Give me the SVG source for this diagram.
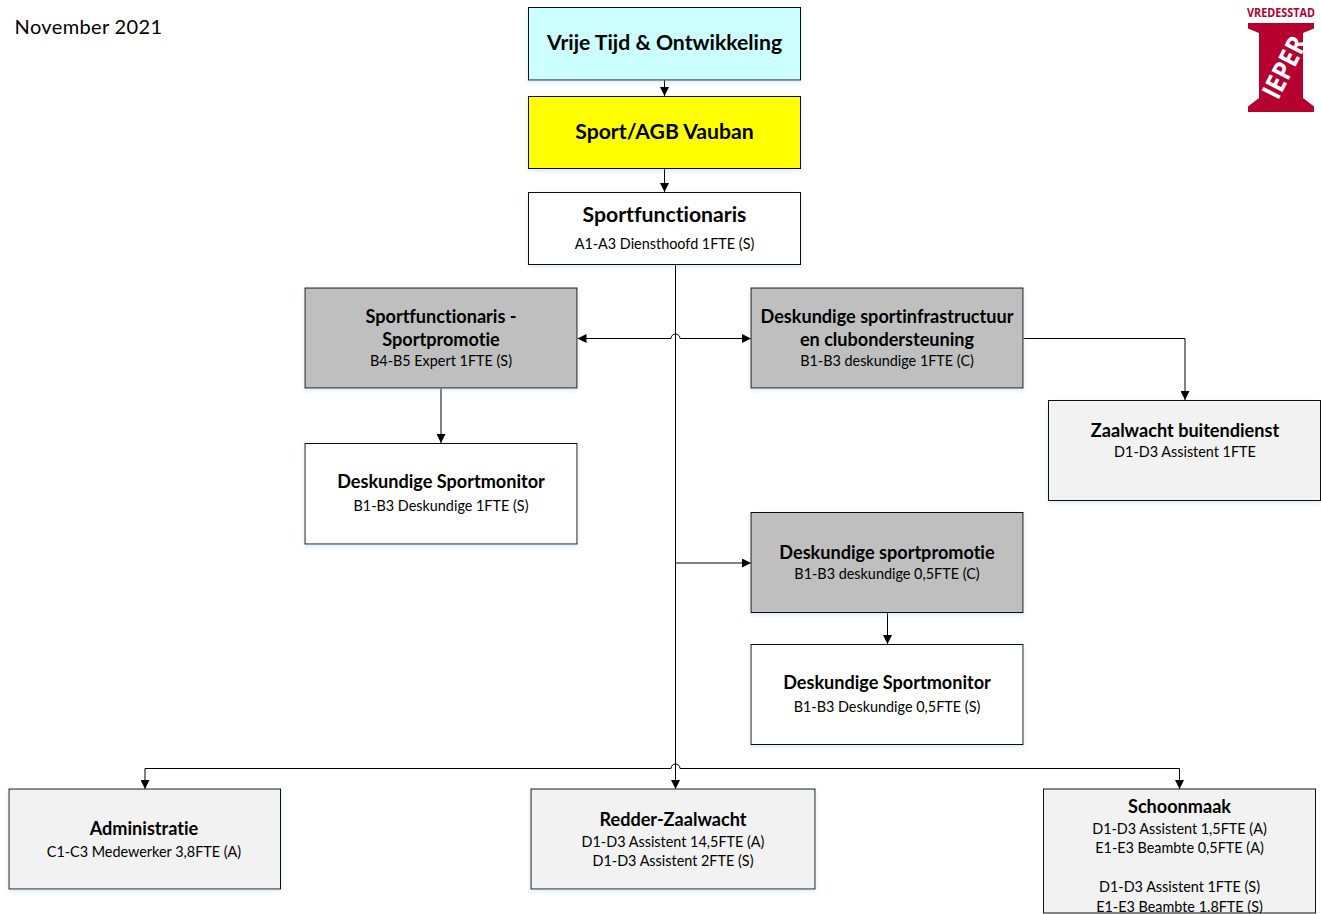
<svg xmlns="http://www.w3.org/2000/svg" width="1321" height="914" viewBox="0 0 1321 914">
<style>
text{font-family:"Lato","Carlito","Open Sans",sans-serif;text-anchor:middle;fill:#000;font-variant-ligatures:none}
.t{font-size:18.1px;font-weight:700}
.h{font-size:21.2px;font-weight:700}
.s{font-size:14.4px}
.b{stroke:#111;stroke-width:1;filter:url(#sh)}
.w{fill:#fff}.g{fill:#bfbfbf}.l{fill:#f2f2f2}
.c{fill:none;stroke:#000;stroke-width:1}
</style>
<defs>
<filter id="sh" x="-5%" y="-5%" width="110%" height="115%"><feDropShadow dx="0" dy="2" stdDeviation="2" flood-color="#9dc3e6" flood-opacity="0.35"/></filter>
<marker id="a" viewBox="0 0 10 10" refX="10" refY="5" markerWidth="9" markerHeight="9" markerUnits="userSpaceOnUse" orient="auto-start-reverse"><path d="M0 0L10 5L0 10Z" fill="#000"/></marker>
<clipPath id="clipS"><rect x="1040" y="785" width="281" height="128"/></clipPath>
</defs>
<rect width="1321" height="914" fill="#fff"/>
<g id="connectors">
<path class="c" d="M664.500 80V96" marker-end="url(#a)"/>
<path class="c" d="M664.500 169V192" marker-end="url(#a)"/>
<path class="c" d="M675.500 265V769"/>
<path class="c" d="M671 338.500H577.500" marker-end="url(#a)"/>
<path class="c" d="M671 338.500A4.500 4.500 0 0 1 680 338.500H751" marker-end="url(#a)"/>
<path class="c" d="M1023.500 338.500H1185V400" marker-end="url(#a)"/>
<path class="c" d="M441 388.500V443" marker-end="url(#a)"/>
<path class="c" d="M676 563H751" marker-end="url(#a)"/>
<path class="c" d="M887.500 613V644" marker-end="url(#a)"/>
<path class="c" d="M671 768.500H145V789" marker-end="url(#a)"/>
<path class="c" d="M671 768.500A4.500 4.500 0 0 1 680 768.500H1179.500V789" marker-end="url(#a)"/>
<path class="c" d="M675.500 768V789" marker-end="url(#a)"/>
</g>
<g id="date"><text x="88.500" y="34" style="font-size:20px;letter-spacing:.35px">November 2021</text></g>
<g id="vrije-tijd"><rect class="b" x="528.500" y="7.500" width="272" height="72.500" fill="#ccffff"/><text class="h" x="664.500" y="50">Vrije Tijd &amp; Ontwikkeling</text></g>
<g id="sport-agb"><rect class="b" x="528.500" y="96.500" width="272" height="72" fill="#ffff00"/><text class="h" x="664.500" y="139">Sport/AGB Vauban</text></g>
<g id="sportfunctionaris"><rect class="b w" x="528.500" y="192.500" width="272" height="72"/><text class="h" x="664.500" y="221.500">Sportfunctionaris</text><text class="s" x="664.500" y="249">A1-A3 Diensthoofd 1FTE (S)</text></g>
<g id="sportpromotie"><rect class="b g" x="305" y="288" width="272" height="100"/><text class="t" x="441" y="323">Sportfunctionaris -</text><text class="t" x="441" y="346">Sportpromotie</text><text class="s" x="441" y="366">B4-B5 Expert 1FTE (S)</text></g>
<g id="infrastructuur"><rect class="b g" x="751" y="288" width="272" height="100"/><text class="t" x="887" y="323">Deskundige sportinfrastructuur</text><text class="t" x="887" y="346">en clubondersteuning</text><text class="s" x="887" y="366">B1-B3 deskundige 1FTE (C)</text></g>
<g id="zaalwacht-buitendienst"><rect class="b l" x="1048.500" y="400.500" width="272" height="100"/><text class="t" x="1185" y="437">Zaalwacht buitendienst</text><text class="s" x="1185" y="457">D1-D3 Assistent 1FTE</text></g>
<g id="sportmonitor-1"><rect class="b w" x="305" y="443.500" width="272" height="100.500"/><text class="t" x="441" y="488">Deskundige Sportmonitor</text><text class="s" x="441" y="511">B1-B3 Deskundige 1FTE (S)</text></g>
<g id="sportpromotie-2"><rect class="b g" x="751" y="512.500" width="272" height="100"/><text class="t" x="887" y="559">Deskundige sportpromotie</text><text class="s" x="887" y="579">B1-B3 deskundige 0,5FTE (C)</text></g>
<g id="sportmonitor-2"><rect class="b w" x="751" y="644.500" width="272" height="100"/><text class="t" x="887" y="689">Deskundige Sportmonitor</text><text class="s" x="887" y="712">B1-B3 Deskundige 0,5FTE (S)</text></g>
<g id="administratie"><rect class="b l" x="9" y="789" width="271.500" height="100"/><text class="t" x="144" y="835">Administratie</text><text class="s" x="144" y="857">C1-C3 Medewerker 3,8FTE (A)</text></g>
<g id="redder"><rect class="b l" x="531" y="789" width="284" height="100"/><text class="t" x="673" y="826">Redder-Zaalwacht</text><text class="s" x="673" y="847">D1-D3 Assistent 14,5FTE (A)</text><text class="s" x="673" y="866">D1-D3 Assistent 2FTE (S)</text></g>
<g id="schoonmaak"><rect class="l" x="1043.500" y="789" width="272" height="124" stroke="#111"/><g clip-path="url(#clipS)"><text class="t" x="1179.500" y="813">Schoonmaak</text><text class="s" x="1179.500" y="834">D1-D3 Assistent 1,5FTE (A)</text><text class="s" x="1179.500" y="853">E1-E3 Beambte 0,5FTE (A)</text><text class="s" x="1179.500" y="892">D1-D3 Assistent 1FTE (S)</text><text class="s" x="1179.500" y="912">E1-E3 Beambte 1.8FTE (S)</text></g></g>
<g id="logo">
<text x="1281" y="17" style="font-size:11.500px;font-weight:700;fill:#b5002f;font-family:'Open Sans',sans-serif" textLength="68" lengthAdjust="spacingAndGlyphs">VREDESSTAD</text>
<path fill="#b5002f" d="M1248 23H1314V28.500L1303 33V98L1314 106.500V112H1248V106.500L1259 98V33L1248 28.500Z"/>
<text transform="translate(1278 101) rotate(-63)" x="0" y="0" style="font-size:27px;font-weight:700;fill:#fff;text-anchor:start;font-family:'Open Sans',sans-serif" textLength="66" lengthAdjust="spacingAndGlyphs">IEPER</text>
</g>
</svg>
